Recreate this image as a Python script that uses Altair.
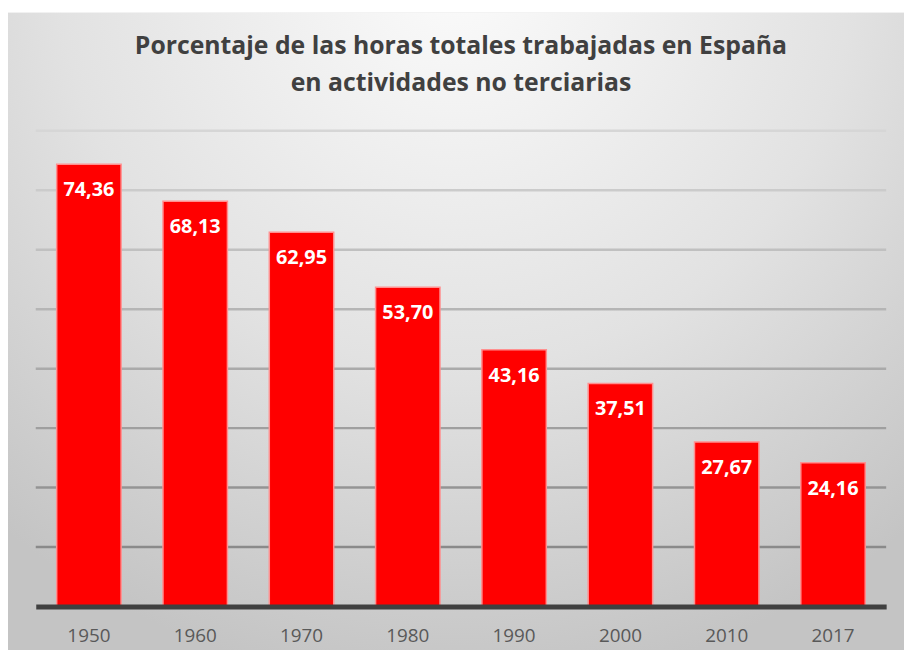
import altair as alt
import pandas as pd

years = ["1950", "1960", "1970", "1980", "1990", "2000", "2010", "2017"]
values = [74.36, 68.13, 62.95, 53.70, 43.16, 37.51, 27.67, 24.16]
grid_values = [10, 20, 30, 40, 50, 60, 70, 80]
title_lines = ["Porcentaje de las horas totales trabajadas en España",
               "en actividades no terciarias"]

labels = [f"{v:.2f}".replace(".", ",") for v in values]
df = pd.DataFrame({"year": years, "value": values, "label": labels})
grid_df = pd.DataFrame({"v": grid_values})
bg_df = pd.DataFrame({"a": [0]})

W, H = 858, 480
FONT = "Open Sans"

bg_grad = alt.RadialGradient(
    gradient="radial",
    x1=0.5, y1=0.1, r1=0.0,
    x2=0.5, y2=0.1, r2=0.8,
    stops=[alt.GradientStop(offset=0, color="#fbfbfb"),
           alt.GradientStop(offset=0.55, color="#e2e2e2"),
           alt.GradientStop(offset=1, color="#c4c4c4")],
)

bg = alt.Chart(bg_df).mark_rect(fill=bg_grad).encode(
    x=alt.value(-28), x2=alt.value(W + 18),
    y=alt.value(-119), y2=alt.value(H + 45),
)

yscale = alt.Scale(domain=[0, 80])

grid = alt.Chart(grid_df).mark_rule(strokeWidth=2.5).encode(
    y=alt.Y("v:Q", scale=yscale, axis=None),
    color=alt.Color("v:Q", scale=alt.Scale(domain=[10, 80], range=["#8a8a8a", "#d6d6d6"]), legend=None),
)

xenc = alt.X(
    "year:N", sort=None, title=None,
    scale=alt.Scale(paddingInner=0.394, paddingOuter=0.197),
    axis=alt.Axis(
        domainColor="#404040", domainWidth=5, ticks=False, grid=False,
        labelFont=FONT, labelFontSize=19, labelColor="#595959",
        labelPadding=20, labelAngle=0, zindex=1,
    ),
)

bars = alt.Chart(df).mark_bar(color="#ff0000", stroke="#ff9090", strokeWidth=1.5).encode(
    x=xenc,
    y=alt.Y("value:Q", scale=yscale, axis=None),
)

text = alt.Chart(df).mark_text(
    color="white", font=FONT, fontSize=20, fontWeight="bold",
    baseline="middle", dy=26,
).encode(
    x=alt.X("year:N", sort=None),
    y=alt.Y("value:Q", scale=yscale),
    text="label:N",
)

chart = alt.layer(bg, grid, bars, text).properties(
    width=W, height=H,
    title=alt.TitleParams(
        text=title_lines, font=FONT, fontSize=25, fontWeight="bold",
        color="#404040", lineHeight=37, offset=-84, anchor="middle",
        frame="group",
    ),
    autosize=alt.AutoSizeParams(type="none"),
    padding={"left": 28, "top": 121, "right": 18, "bottom": 41},
).configure_view(stroke=None).configure(background="white")

chart.save("out.html", embed_options={"renderer": "svg", "actions": False})
